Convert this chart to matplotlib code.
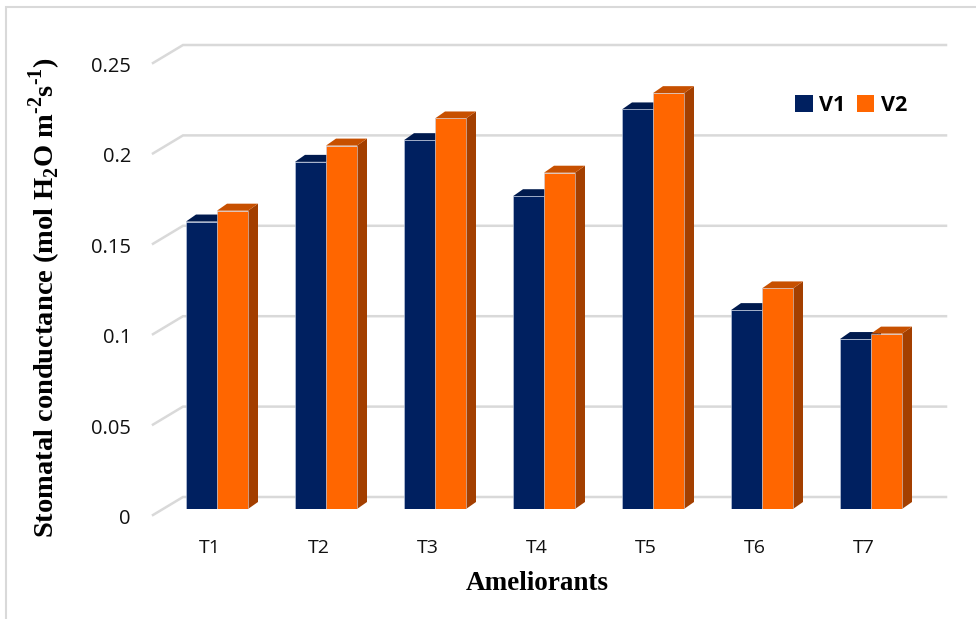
import matplotlib.pyplot as plt
import numpy as np
from matplotlib.patches import Polygon, Patch, Rectangle

# Stomatal conductance for each ameliorant, two varieties
treatments = ["T1", "T2", "T3", "T4", "T5", "T6", "T7"]
v1 = [0.159, 0.192, 0.204, 0.173, 0.221, 0.110, 0.094]
v2 = [0.165, 0.201, 0.216, 0.186, 0.230, 0.122, 0.097]
yticks = [0, 0.05, 0.1, 0.15, 0.2, 0.25]
ytick_labels = ["0", "0.05", "0.1", "0.15", "0.2", "0.25"]

NAVY = "#002060"
NAVY_TOP = "#001A4E"
NAVY_SIDE = "#00143C"
ORANGE = "#FF6600"
ORANGE_TOP = "#C75000"
ORANGE_SIDE = "#A33F00"
GRID = "#D9D9D9"
TXT = "#111111"

W, H = 976, 619
fig = plt.figure(figsize=(W / 100, H / 100), dpi=100)

# axes box: category spacing 109 px, bar base at y=509 px, 0.25 at 57 px
x_left, x_right = 162.5, 925.5
y_base, y_top = 509, 57
ax = fig.add_axes([x_left / W, 1 - y_base / H, (x_right - x_left) / W, (y_base - y_top) / H])
ax.set_xlim(-0.5, 6.5)
ax.set_ylim(0, 0.25)
ax.axis("off")

# pixel -> data unit conversion for the pseudo-3D depth
px_x = 1 / 109.0
px_y = 0.25 / (y_base - y_top)

# back wall gridlines with a slanted floor edge on the left
gx_front = -0.5 + (153 - x_left) * px_x
gx_back = -0.5 + (183 - x_left) * px_x
gx_end = -0.5 + (946 - x_left) * px_x
for v in yticks:
    yf = v - 6 * px_y
    yb = v + 12 * px_y
    ax.plot([gx_front, gx_back, gx_end], [yf, yb, yb], color=GRID, lw=1.8,
            clip_on=False, zorder=1, solid_joinstyle="miter")

# tick labels sit at the front edge of the gridlines
for v, lab in zip(yticks, ytick_labels):
    ax.text(-0.5 + (131 - x_left) * px_x, v - 10 * px_y, lab, ha="right", va="center",
            fontsize=14.5, family="Open Sans", color=TXT, clip_on=False)

x = np.arange(len(treatments))
bw = 31 * px_x
dx = 10 * px_x
dy = 7 * px_y


def draw_bars(xs, hs, front, top, side):
    for xc, h in zip(xs, hs):
        x0, x1 = xc - bw / 2, xc + bw / 2
        ax.add_patch(Polygon([(x1, 0), (x1 + dx, dy), (x1 + dx, h + dy), (x1, h)],
                             closed=True, facecolor=side, edgecolor="none", zorder=3))
        ax.add_patch(Polygon([(x0, h), (x1, h), (x1 + dx, h + dy), (x0 + dx, h + dy)],
                             closed=True, facecolor=top, edgecolor="none", zorder=3))
    ax.bar(xs, hs, width=bw, color=front, edgecolor="#C9D3E6", linewidth=0.4, zorder=3)


for i in range(len(treatments)):
    draw_bars([x[i] - bw / 2], [v1[i]], NAVY, NAVY_TOP, NAVY_SIDE)
    draw_bars([x[i] + bw / 2], [v2[i]], ORANGE, ORANGE_TOP, ORANGE_SIDE)

for xc, lab in zip(x, treatments):
    ax.text(xc - 7 * px_x, -39 * px_y, lab, ha="center", va="center",
            fontsize=14, family="Open Sans", color=TXT, clip_on=False)

fig.text(537 / W, 1 - 583 / H, "Ameliorants", ha="center", va="center",
         fontsize=19.5, fontweight="bold", family="Liberation Serif")

plt.rcParams["mathtext.fontset"] = "custom"
plt.rcParams["mathtext.bf"] = "Liberation Serif:bold"
plt.rcParams["mathtext.rm"] = "Liberation Serif:bold"
fig.text(45 / W, 1 - 298 / H,
         "Stomatal conductance (mol H$_{\\mathbf{2}}$O m$^{\\mathbf{\u2010 2}}$s$^{\\mathbf{\u2010 1}}$)",
         rotation=90, ha="center", va="center", fontsize=20.5, fontweight="bold",
         family="Liberation Serif")

handles = [Patch(facecolor=NAVY, label="V1"), Patch(facecolor=ORANGE, label="V2")]
ax.legend(handles=handles, ncol=2, frameon=False, loc="upper right",
          bbox_to_anchor=(920 / W, 1 - 82 / H), bbox_transform=fig.transFigure,
          handlelength=0.8, handleheight=0.8, handletextpad=0.3, columnspacing=0.55,
          borderaxespad=0.2, prop={"family": "Open Sans", "weight": "bold", "size": 15.5})

# chart frame (left and top edges visible)
fig.patches.append(Rectangle((6 / W, -0.05), 1.1, 1 - 7 / H + 0.05, transform=fig.transFigure,
                             fill=False, edgecolor=GRID, lw=1.5))

fig.savefig("out.png", dpi=100)
